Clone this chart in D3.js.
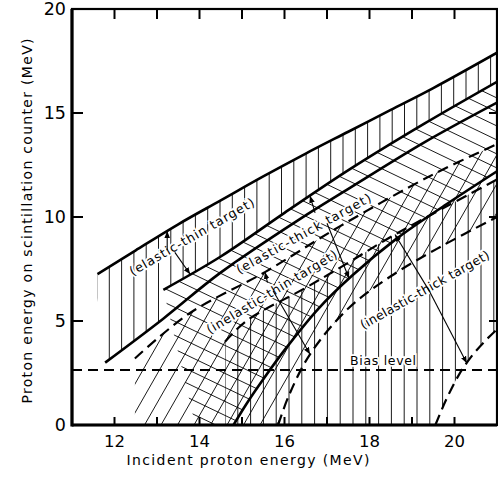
<!DOCTYPE html>
<html>
<head>
<meta charset="utf-8">
<script src="https://cdnjs.cloudflare.com/ajax/libs/d3/7.8.5/d3.min.js"></script>
<style>
  body { margin: 0; background: #fff; }
  svg { display: block; font-family: "DejaVu Sans", sans-serif; }
</style>
</head>
<body>
<script>
// band edges: [incident energy, energy on counter] in MeV
var elasticThinUpper = [[11.6,7.25],[12.5,8.4],[13.5,9.65],[14.5,10.8],[15.5,11.95],[16.5,13.05],[17.5,14.1],[18.5,15.15],[19.5,16.2],[21,17.9]];
var elasticThinLower = [[11.78,3.0],[13.14,5.1],[14.48,7.3],[16.36,9.9],[17.54,11.4],[19.3,13.6],[21,15.5]];
var elasticThickUpper = [[13.15,6.5],[14.5,8.1],[16.0,10.2],[17.54,12.3],[19.3,14.5],[21,16.5]];
var elasticThickLower = [[14.8,0],[15.1,1.0],[15.5,2.2],[16.0,3.6],[16.8,5.6],[17.6,7.2],[18.6,8.9],[19.8,10.6],[21,12.2]];
var inelasticThinUpper = [[12.48,3.2],[13.75,5.35],[15.54,7.35],[17.3,9.55],[19.5,12.05],[21,13.5]];
var inelasticThinLower = [[15.85,0],[16.1,1.4],[16.6,3.4],[17.5,5.6],[18.5,7.15],[19.7,8.6],[21,10.0]];
var inelasticThickUpper = [[14.6,4.0],[15.1,5.0],[16.5,6.6],[17.5,7.8],[18.55,9.1],[21,11.8]];
var inelasticThickLower = [[19.55,0],[19.8,1.2],[20.1,2.4],[20.4,3.3],[20.7,4.0],[21,4.6]];
var biasLevel = 2.65;

var xTicks = [12,13,14,15,16,17,18,19,20];
var xTickLabels = [12,14,16,18,20];
var yTicks = [5,10,15];
var yTickLabels = [0,5,10,15,20];

var width = 498, height = 480;

var x = d3.scaleLinear().domain([11,21]).range([72,497]);
var y = d3.scaleLinear().domain([0,20]).range([425,9]);

var svg = d3.select("body").append("svg")
    .attr("width", width)
    .attr("height", height);

var defs = svg.append("defs");

defs.append("clipPath").attr("id","plot")
  .append("rect")
    .attr("x", x(11)).attr("y", y(20))
    .attr("width", x(21)-x(11)).attr("height", y(0)-y(20));

defs.append("marker")
    .attr("id","head")
    .attr("viewBox","0 0 10 10")
    .attr("refX",10).attr("refY",5)
    .attr("markerWidth",7).attr("markerHeight",7)
    .attr("markerUnits","userSpaceOnUse")
    .attr("orient","auto")
  .append("path")
    .attr("d","M0,1L10,5L0,9Z")
    .attr("fill","#000");

var line = d3.line()
    .x(function(d){ return x(d[0]); })
    .y(function(d){ return y(d[1]); })
    .curve(d3.curveCatmullRom.alpha(0.5));

function at(curve, v){
  for (var i = 1; i < curve.length; i++) {
    if (v <= curve[i][0]) {
      var a = curve[i-1], b = curve[i];
      return a[1] + (b[1]-a[1]) * (v-a[0]) / (b[0]-a[0]);
    }
  }
  return curve[curve.length-1][1];
}

// closed outline: top edge left->right, then each bottom piece right->left, then extra corners
function regionPath(top, bottoms, extra){
  var d = line(top);
  bottoms.forEach(function(b){ d += line(b.slice().reverse()).replace(/^M/, "L"); });
  (extra || []).forEach(function(p){ d += "L" + x(p[0]) + "," + y(p[1]); });
  return d + "Z";
}

var thinLowerLeft = elasticThinLower.filter(function(p){ return p[0] <= elasticThickUpper[0][0]; });
thinLowerLeft.push([elasticThickUpper[0][0], at(elasticThinLower, elasticThickUpper[0][0])]);

var regions = [
  {id:"rElThin", d: regionPath(elasticThinUpper, [elasticThickUpper, thinLowerLeft], [[11.6,6.1]]), hatch:"vert", start:97, step:12.3},
  {id:"rElThick", d: regionPath(elasticThickUpper, [elasticThickLower], [[13.9,0]]), hatch:"back", step:14},
  {id:"rInThin", d: regionPath(inelasticThinUpper, [inelasticThinLower], [[12.48,0]]), hatch:"fwd", step:16.5},
  {id:"rInThick", d: regionPath(inelasticThickUpper, [inelasticThickLower], [[14.6,0]]), hatch:"vert", start:225, step:12.8}
];

regions.forEach(function(r){
  defs.append("clipPath").attr("id", r.id).append("path").attr("d", r.d);
});

var plot = svg.append("g").attr("clip-path","url(#plot)");

// hatching
regions.forEach(function(r){
  var segs = [];
  var x0 = x(11), x1 = x(21), yTop = y(20), yBot = y(0);
  if (r.hatch == "vert") {
    for (var px = r.start; px <= x1 + 1; px += r.step) segs.push([px, yTop, px, yBot]);
  } else if (r.hatch == "back") {
    for (var c = -400; c < 700; c += r.step) segs.push([x0, c, x1, c + 0.48*(x1-x0)]);
  } else {
    for (var b = -400; b < 700; b += r.step) segs.push([b, yBot, b + (yBot-yTop)/1.75, yTop]);
  }
  plot.append("g")
      .attr("clip-path","url(#" + r.id + ")")
    .selectAll("line")
    .data(segs)
    .enter().append("line")
      .attr("x1", function(s){ return s[0]; })
      .attr("y1", function(s){ return s[1]; })
      .attr("x2", function(s){ return s[2]; })
      .attr("y2", function(s){ return s[3]; })
      .attr("stroke","#000")
      .attr("stroke-width",0.9);
});

// band edges
var solid = [elasticThinUpper, elasticThinLower, elasticThickUpper, elasticThickLower];
var dashed = [inelasticThinUpper, inelasticThinLower, inelasticThickUpper, inelasticThickLower];

plot.selectAll(".solid")
  .data(solid)
  .enter().append("path")
    .attr("class","solid")
    .attr("d", line)
    .attr("fill","none")
    .attr("stroke","#000")
    .attr("stroke-width",2.6);

plot.selectAll(".dashed")
  .data(dashed)
  .enter().append("path")
    .attr("class","dashed")
    .attr("d", line)
    .attr("fill","none")
    .attr("stroke","#000")
    .attr("stroke-width",2.2)
    .attr("stroke-dasharray","11,6");

plot.append("line")
    .attr("x1", x(11)).attr("x2", x(21))
    .attr("y1", y(biasLevel)).attr("y2", y(biasLevel))
    .attr("stroke","#000")
    .attr("stroke-width",2)
    .attr("stroke-dasharray","10,6");

// labels
var labels = [
  {t:"(elastic-thin target)", x:13.82, y:9.05, a:-30, len:142},
  {t:"(elastic-thick target)", x:16.45, y:9.2, a:-29, len:152},
  {t:"(inelastic-thin target)", x:15.7, y:6.4, a:-31, len:150},
  {t:"(inelastic-thick target)", x:19.3, y:6.5, a:-29.5, len:146},
  {t:"Bias  level", x:18.32, y:3.1, a:0, len:66}
];

svg.append("g").selectAll("text")
  .data(labels)
  .enter().append("text")
    .attr("transform", function(d){ return "translate(" + x(d.x) + "," + y(d.y) + ") rotate(" + d.a + ")"; })
    .attr("text-anchor","middle")
    .attr("dy","0.35em")
    .attr("textLength", function(d){ return d.len; })
    .attr("lengthAdjust","spacing")
    .attr("font-size",12.5)
    .attr("stroke","#fff")
    .attr("stroke-width",3.5)
    .attr("paint-order","stroke")
    .attr("fill","#000")
    .text(function(d){ return d.t; });

// arrows from labels to band edges
var arrows = [
  {x1:13.24, y1:8.4, x2:13.24, to:elasticThinUpper},
  {x1:13.42, y1:8.3, x2:13.78, to:elasticThickUpper},
  {x1:16.72, y1:10.2, x2:16.6, to:elasticThickUpper},
  {x1:17.0, y1:9.7, x2:17.52, to:elasticThickLower},
  {x1:15.6, y1:6.85, x2:15.54, to:inelasticThinUpper},
  {x1:15.73, y1:6.45, x2:16.6, to:inelasticThinLower},
  {x1:19.42, y1:6.4, x2:18.6, to:inelasticThickUpper},
  {x1:19.42, y1:6.4, x2:20.29, to:inelasticThickLower}
];

svg.append("g").selectAll("line")
  .data(arrows)
  .enter().append("line")
    .attr("x1", function(d){ return x(d.x1); })
    .attr("y1", function(d){ return y(d.y1); })
    .attr("x2", function(d){ return x(d.x2); })
    .attr("y2", function(d){ return y(at(d.to, d.x2)); })
    .attr("stroke","#000")
    .attr("stroke-width",1.1)
    .attr("marker-end","url(#head)");

// frame and ticks
svg.append("rect")
    .attr("x", x(11)).attr("y", y(20))
    .attr("width", x(21)-x(11)).attr("height", y(0)-y(20))
    .attr("fill","none")
    .attr("stroke","#000")
    .attr("stroke-width",2.2);
svg.append("line")
    .attr("x1", x(11)).attr("x2", x(11)).attr("y1", y(20)).attr("y2", y(0)+1.5)
    .attr("stroke","#000").attr("stroke-width",3.2);
svg.append("line")
    .attr("x1", x(11)).attr("x2", x(21)).attr("y1", y(0)).attr("y2", y(0))
    .attr("stroke","#000").attr("stroke-width",3.2);

var ticks = svg.append("g").attr("stroke","#000").attr("stroke-width",2);
ticks.selectAll(".tt").data(xTicks).enter().append("line")
    .attr("x1", function(d){ return x(d); }).attr("x2", function(d){ return x(d); })
    .attr("y1", y(20)).attr("y2", y(20)+10);
ticks.selectAll(".tb").data(xTicks).enter().append("line")
    .attr("x1", function(d){ return x(d); }).attr("x2", function(d){ return x(d); })
    .attr("y1", y(0)).attr("y2", y(0)-8);
ticks.selectAll(".tl").data(yTicks).enter().append("line")
    .attr("x1", x(11)).attr("x2", x(11)+11)
    .attr("y1", function(d){ return y(d); }).attr("y2", function(d){ return y(d); });
ticks.selectAll(".tr").data(yTicks).enter().append("line")
    .attr("x1", x(21)).attr("x2", x(21)-8)
    .attr("y1", function(d){ return y(d); }).attr("y2", function(d){ return y(d); });

svg.append("g").selectAll("text")
  .data(xTickLabels)
  .enter().append("text")
    .attr("x", function(d){ return x(d); })
    .attr("y", 447)
    .attr("text-anchor","middle")
    .attr("font-size",16.5)
    .text(function(d){ return d; });

svg.append("g").selectAll("text")
  .data(yTickLabels)
  .enter().append("text")
    .attr("x", 66)
    .attr("y", function(d){ return y(d); })
    .attr("dy","0.36em")
    .attr("text-anchor","end")
    .attr("font-size",17.5)
    .text(function(d){ return d; });

svg.append("text")
    .attr("x", 248).attr("y", 465)
    .attr("text-anchor","middle")
    .attr("font-size",14)
    .attr("textLength",243)
    .attr("lengthAdjust","spacing")
    .text("Incident proton energy  (MeV)");

svg.append("text")
    .attr("transform","translate(32,221) rotate(-90)")
    .attr("text-anchor","middle")
    .attr("font-size",14)
    .attr("textLength",365)
    .attr("lengthAdjust","spacing")
    .text("Proton energy on scintillation counter  (MeV)");
</script>
</body>
</html>
